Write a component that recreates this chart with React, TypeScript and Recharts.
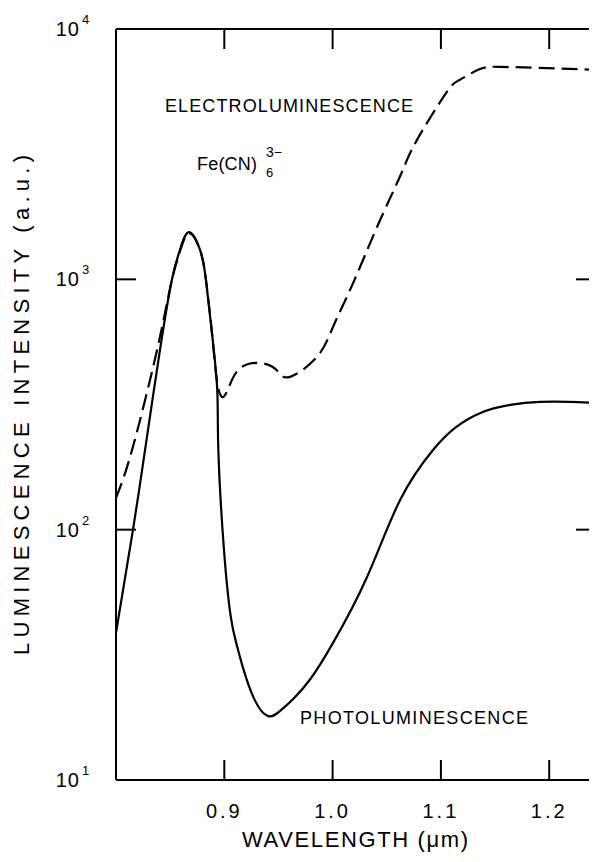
import { Line, LineChart, XAxis, YAxis } from "recharts"

// photoluminescence (solid)
const plWavelength = [
  0.8, 0.8157, 0.8268, 0.8406, 0.8517, 0.859, 0.8674, 0.8776, 0.883, 0.8886, 0.8935, 0.8945,
  0.8997, 0.906, 0.911, 0.917, 0.928, 0.9404, 0.951, 0.9634, 0.98, 1.0004, 1.0318, 1.0622,
  1.0927, 1.113, 1.136, 1.164, 1.1915, 1.219, 1.243,
]
const plIntensity = [
  38.7, 100, 208, 522, 1000, 1310, 1545, 1310, 1000, 611, 361, 208,
  83, 44.8, 35.3, 28.3, 20.9, 18.0, 18.8, 21.0, 25.5, 35.3, 64.7, 131,
  208, 255, 292, 315, 324, 324, 321,
]

// electroluminescence (dashed)
const elWavelength = [
  0.8, 0.8148, 0.8379, 0.851, 0.859, 0.8674, 0.8776, 0.883, 0.8886, 0.8935, 0.899, 0.905,
  0.915, 0.933, 0.948, 0.96, 0.9856, 1.0004, 1.019, 1.041, 1.062, 1.073, 1.09, 1.108,
  1.1176, 1.136, 1.1546, 1.19, 1.243,
]
const elIntensity = [
  134, 208, 522, 968, 1290, 1530, 1310, 1000, 611, 385, 339, 378,
  443, 463, 435, 407, 490, 646, 968, 1618, 2563, 3290, 4415, 5800,
  6270, 6920, 7060, 7000, 6870,
]

const xTicks = [0.9, 1.0, 1.1, 1.2]
const yTicks = [10, 100, 1000, 10000]
const yExponent: Record<number, string> = { 10: "1", 100: "2", 1000: "3", 10000: "4" }

const plData = plWavelength.map((w, i) => ({ w, v: plIntensity[i] }))
const elData = elWavelength.map((w, i) => ({ w, v: elIntensity[i] }))

const font = "'Liberation Sans', Arial, sans-serif"
const TICK = 20

const BottomTick = (props: any) => {
  const { x, y, payload } = props
  return (
    <g>
      <line x1={x} x2={x} y1={y} y2={y - TICK} stroke="#000" strokeWidth={2} />
      <text x={x} y={y + 38} textAnchor="middle" fontSize={20} fontFamily={font} fill="#000" letterSpacing={3}>
        {payload.value.toFixed(1)}
      </text>
    </g>
  )
}

const TopTick = (props: any) => {
  const { x, y } = props
  return <line x1={x} x2={x} y1={y} y2={y + TICK} stroke="#000" strokeWidth={2} />
}

const LeftTick = (props: any) => {
  const { x, y, payload } = props
  const inner = payload.value === 100 || payload.value === 1000
  return (
    <g>
      {inner && <line x1={x} x2={x + TICK} y1={y} y2={y} stroke="#000" strokeWidth={2} />}
      <text x={x - 36} y={y + 7} textAnchor="end" fontSize={20} fontFamily={font} fill="#000" letterSpacing={1}>
        10
      </text>
      <text x={x - 34} y={y - 5} fontSize={13} fontFamily={font} fill="#000">
        {yExponent[payload.value]}
      </text>
    </g>
  )
}

const RightTick = (props: any) => {
  const { x, y, payload } = props
  if (payload.value !== 100 && payload.value !== 1000) return <g />
  return <line x1={x} x2={x - TICK} y1={y} y2={y} stroke="#000" strokeWidth={2} />
}

export default function App() {
  return (
    <LineChart width={589} height={854} margin={{ top: 20, right: 0, bottom: 0, left: 0 }}>
      <XAxis
        xAxisId="bottom"
        dataKey="w"
        type="number"
        domain={[0.8, 1.2432]}
        allowDataOverflow
        ticks={xTicks}
        height={82}
        tickSize={0}
        tickMargin={0}
        tickLine={false}
        axisLine={{ stroke: "#000", strokeWidth: 2 }}
        tick={<BottomTick />}
      />
      <XAxis
        xAxisId="top"
        orientation="top"
        dataKey="w"
        type="number"
        domain={[0.8, 1.2432]}
        allowDataOverflow
        ticks={xTicks}
        height={1}
        tickSize={0}
        tickMargin={0}
        tickLine={false}
        axisLine={{ stroke: "#000", strokeWidth: 2 }}
        tick={<TopTick />}
      />
      <YAxis
        yAxisId="left"
        type="number"
        scale="log"
        domain={[10, 10000]}
        allowDataOverflow
        ticks={yTicks}
        width={108}
        tickSize={0}
        tickMargin={0}
        tickLine={false}
        axisLine={{ stroke: "#000", strokeWidth: 2 }}
        tick={<LeftTick />}
      />
      <YAxis
        yAxisId="right"
        orientation="right"
        type="number"
        scale="log"
        domain={[10, 10000]}
        allowDataOverflow
        ticks={yTicks}
        width={1}
        tickSize={0}
        tickMargin={0}
        tickLine={false}
        axisLine={{ stroke: "#000", strokeWidth: 2 }}
        tick={<RightTick />}
      />
      <Line
        xAxisId="bottom"
        yAxisId="left"
        data={plData}
        dataKey="v"
        type="natural"
        stroke="#000"
        strokeWidth={2.2}
        dot={false}
        isAnimationActive={false}
      />
      <Line
        xAxisId="bottom"
        yAxisId="left"
        data={elData}
        dataKey="v"
        type="natural"
        stroke="#000"
        strokeWidth={2.2}
        strokeDasharray="16 7"
        dot={false}
        isAnimationActive={false}
      />
      <text x={157} y={104} fontSize={18} fontFamily={font} fill="#000" textLength={248} lengthAdjust="spacing">
        ELECTROLUMINESCENCE
      </text>
      <text x={189} y={162} fontSize={18} fontFamily={font} fill="#000" textLength={60} lengthAdjust="spacing">
        Fe(CN)
      </text>
      <text x={258} y={169} fontSize={13} fontFamily={font} fill="#000">6</text>
      <text x={258} y={149} fontSize={14} fontFamily={font} fill="#000">3−</text>
      <text x={292} y={716} fontSize={18} fontFamily={font} fill="#000" textLength={228} lengthAdjust="spacing">
        PHOTOLUMINESCENCE
      </text>
      <text x={347} y={839} textAnchor="middle" fontSize={22} fontFamily={font} fill="#000" textLength={226} lengthAdjust="spacing">
        WAVELENGTH (μm)
      </text>
      <text
        x={0}
        y={0}
        transform="translate(21, 397) rotate(-90)"
        textAnchor="middle"
        fontSize={22}
        fontFamily={font}
        fill="#000"
        textLength={500}
        lengthAdjust="spacing"
      >
        LUMINESCENCE INTENSITY (a.u.)
      </text>
    </LineChart>
  )
}
